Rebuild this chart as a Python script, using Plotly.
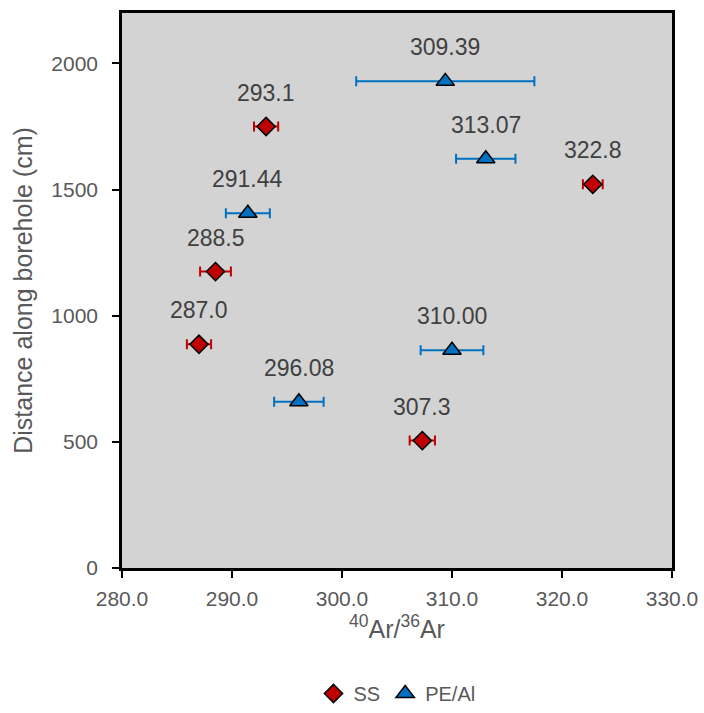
import plotly.graph_objects as go

# SS series
ss_x = [293.1, 288.5, 287.0, 307.3, 322.8]
ss_y = [1750, 1175, 887, 505, 1521]
ss_err = [1.1, 1.4, 1.1, 1.15, 0.9]
ss_labels = ["293.1", "288.5", "287.0", "307.3", "322.8"]

# PE/Al series
pe_x = [309.39, 313.07, 291.44, 296.08, 310.00]
pe_y = [1929, 1622, 1406, 659, 863]
pe_err = [8.1, 2.7, 2.0, 2.25, 2.85]
pe_labels = ["309.39", "313.07", "291.44", "296.08", "310.00"]

x_ticks = [280, 290, 300, 310, 320, 330]
y_ticks = [0, 500, 1000, 1500, 2000]

SS_RED = "#C00000"
PE_BLUE = "#0070C0"
FONT = "Arial, Liberation Sans"

fig = go.Figure()
fig.add_trace(go.Scatter(
    x=ss_x, y=ss_y, mode="markers", name="SS",
    marker=dict(symbol="diamond", size=14, color=SS_RED, line=dict(color="black", width=1.5)),
    error_x=dict(type="data", array=ss_err, color=SS_RED, thickness=2, width=5),
))
fig.add_trace(go.Scatter(
    x=pe_x, y=pe_y, mode="markers", name="PE/Al",
    marker=dict(symbol="triangle-up", size=16, color=PE_BLUE, line=dict(color="black", width=1.5)),
    error_x=dict(type="data", array=pe_err, color=PE_BLUE, thickness=2, width=5),
))

for xs, ys, labs in [(ss_x, ss_y, ss_labels), (pe_x, pe_y, pe_labels)]:
    for x, y, t in zip(xs, ys, labs):
        fig.add_annotation(x=x, y=y, text=t, showarrow=False, yshift=34,
                           font=dict(family=FONT, size=23, color="#404040"))

fig.update_layout(
    width=704, height=713,
    margin=dict(l=122, r=32, t=13, b=145, autoexpand=False),
    paper_bgcolor="white", plot_bgcolor="#D3D3D3",
    font=dict(family=FONT, size=21, color="#595959"),
    showlegend=True,
    legend=dict(orientation="h", x=0.5, xanchor="center", yref="container", y=-0.008,
                yanchor="bottom", bgcolor="rgba(0,0,0,0)", borderwidth=0,
                font=dict(size=20, color="#595959"), itemwidth=30, tracegroupgap=0),
)
fig.update_xaxes(
    range=[280, 330], tickvals=x_ticks, ticktext=[f"{v:.1f}" for v in x_ticks],
    showgrid=False, zeroline=False, showline=True, linecolor="black", linewidth=2.5,
    mirror=True, ticks="outside", ticklen=7, tickwidth=2, tickcolor="black",
    ticklabelstandoff=3, automargin=False,
    tickfont=dict(size=21, color="#595959"),
    title=dict(text="<sup>40</sup>Ar/<sup>36</sup>Ar", font=dict(size=25, color="#595959"), standoff=12),
)
fig.update_yaxes(
    range=[0, 2200], tickvals=y_ticks,
    showgrid=False, zeroline=False, showline=True, linecolor="black", linewidth=2.5,
    mirror=True, ticks="outside", ticklen=7, tickwidth=2, tickcolor="black",
    ticklabelstandoff=10, automargin=False,
    tickfont=dict(size=21, color="#595959"),
    title=dict(text="Distance along borehole (cm)", font=dict(size=25, color="#595959"), standoff=12),
)

fig.write_html("out.html")
